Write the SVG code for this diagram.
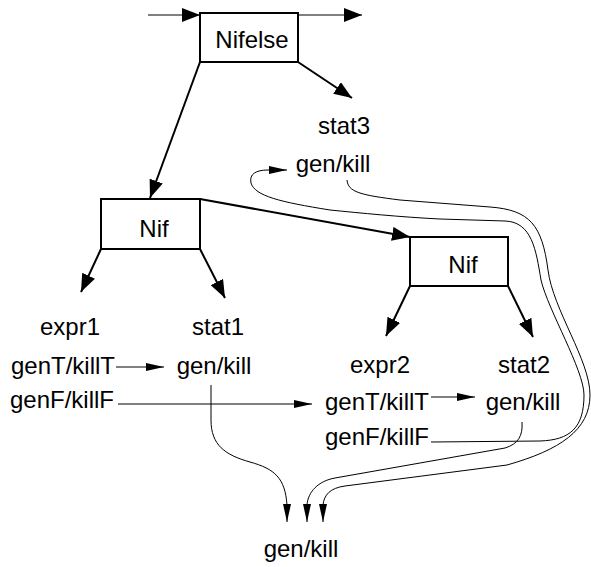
<svg xmlns="http://www.w3.org/2000/svg" width="591" height="567" viewBox="0 0 591 567">
<style>
text{font-family:"Liberation Sans",Arial,sans-serif;font-size:24px;fill:#000;text-anchor:middle}
.box{fill:#fff;stroke:#000;stroke-width:2}
.edge{fill:none;stroke:#000;stroke-width:2}
.thin{fill:none;stroke:#000;stroke-width:1}
</style>
<defs>
<marker id="big" markerUnits="userSpaceOnUse" markerWidth="20" markerHeight="14" refX="18" refY="7" orient="auto"><path d="M0,0 L18,7 L0,14 Z" fill="#000"/></marker>
<marker id="small" markerUnits="userSpaceOnUse" markerWidth="20" markerHeight="10" refX="18" refY="5" orient="auto"><path d="M0,1 L18,5 L0,9 Z" fill="#000"/></marker>
</defs>
<rect width="591" height="567" fill="#fff"/>
<g id="connectors">
<line class="edge" x1="148" y1="15" x2="200" y2="15" style="stroke-width:1" marker-end="url(#big)"/>
<line class="edge" x1="298" y1="15" x2="362" y2="15" style="stroke-width:1" marker-end="url(#big)"/>
<line class="edge" x1="200" y1="62" x2="150" y2="198" marker-end="url(#big)"/>
<line class="edge" x1="298" y1="62" x2="352" y2="98" marker-end="url(#big)"/>
<line class="edge" x1="200" y1="199" x2="410" y2="237" marker-end="url(#big)"/>
<line class="edge" x1="101" y1="249" x2="81" y2="292" marker-end="url(#big)"/>
<line class="edge" x1="200" y1="249" x2="225" y2="298" marker-end="url(#big)"/>
<line class="edge" x1="410" y1="286" x2="386" y2="336" marker-end="url(#big)"/>
<line class="edge" x1="508" y1="286" x2="533" y2="337" marker-end="url(#big)"/>
<line class="thin" x1="116" y1="367" x2="164" y2="367" marker-end="url(#small)"/>
<line class="thin" x1="118" y1="404" x2="312" y2="404" marker-end="url(#small)"/>
<line class="thin" x1="431" y1="397" x2="475" y2="397" marker-end="url(#small)"/>
<path class="thin" d="M211,385 L211,420 C211,445 225,455 250,462 C275,469 285,478 287,505 L287,522" marker-end="url(#small)"/>
<path class="thin" d="M522,422 C523,436 518,444 505,448 L335,478 C318,481 308,492 307,505 L307,522" marker-end="url(#small)"/>
<path class="thin" d="M431,442 L540,441 C570,440 584,428 584,395 C584,370 548,310 541,280 C536,250 532,222 505,221 L440,219 C400,217 360,213 330,210 C280,202 255,196 251,183 C249,174 256,170 268,170 L287,170" marker-end="url(#small)"/>
<path class="thin" d="M347,180 C348,192 360,195 400,200 L490,207 C530,210 542,225 548,270 C553,310 590,360 590,395 C590,430 560,450 507,465 L345,486 C330,488 324,495 323,505 L323,522" marker-end="url(#small)"/>
</g>
<g id="nifelse"><rect class="box" x="200" y="13" width="98" height="49"/><text x="252" y="48">Nifelse</text></g>
<g id="nif1"><rect class="box" x="101" y="199" width="99" height="50"/><text x="154" y="237">Nif</text></g>
<g id="nif2"><rect class="box" x="410" y="237" width="98" height="49"/><text x="463" y="273">Nif</text></g>
<g id="stat3"><text x="344" y="134">stat3</text><text x="333" y="172">gen/kill</text></g>
<g id="expr1"><text x="70" y="335">expr1</text><text x="63" y="374">genT/killT</text><text x="62" y="408">genF/killF</text></g>
<g id="stat1"><text x="218" y="335">stat1</text><text x="214" y="374">gen/kill</text></g>
<g id="expr2"><text x="380" y="373">expr2</text><text x="377" y="410">genT/killT</text><text x="377" y="445">genF/killF</text></g>
<g id="stat2"><text x="524" y="373">stat2</text><text x="523" y="410">gen/kill</text></g>
<g id="out"><text x="301" y="557">gen/kill</text></g>
</svg>
